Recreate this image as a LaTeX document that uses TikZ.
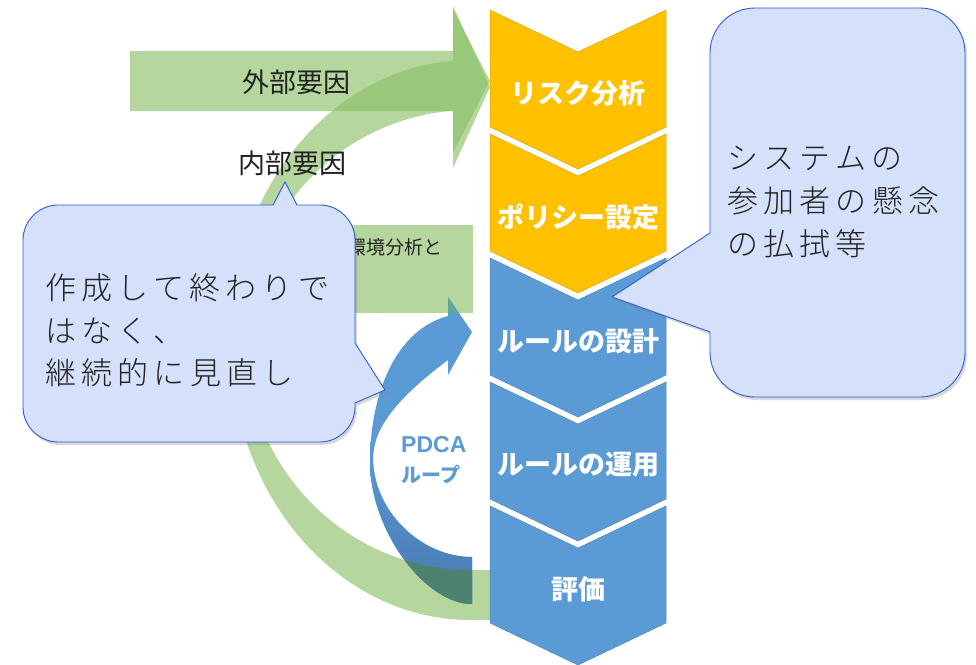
\documentclass[tikz,border=0pt]{standalone}
\usepackage{fontspec}
\usetikzlibrary{shadows}
\newfontfamily\jp{Noto Sans CJK JP}
\newfontfamily\jpls{Noto Sans CJK JP Light}[LetterSpace=17]
\newfontfamily\nsans{Liberation Sans}
\definecolor{grn}{HTML}{88C064}
\definecolor{orng}{HTML}{FFC000}
\definecolor{bluL}{HTML}{5B9BD5}
\definecolor{bluD}{HTML}{4777B0}
\definecolor{tealD}{HTML}{4E8270}
\definecolor{tealL}{HTML}{62A69A}
\definecolor{cofill}{HTML}{D5E0FB}
\definecolor{coline}{HTML}{2F5BD3}
\definecolor{txt}{HTML}{222222}
\tikzset{
  greenshape/.style={fill=grn, fill opacity=0.62},
  chevtext/.style={text=white, font=\jp\bfseries\fontsize{27}{30}\selectfont, inner sep=0pt},
  labtext/.style={text=txt, font=\jp\fontsize{27}{30}\selectfont, inner sep=0pt},
  cotext/.style={text=txt, font=\jpls\fontsize{31}{36}\selectfont, inner sep=0pt, anchor=base west},
  callout/.style={fill=cofill, draw=coline, line width=0.9pt,
    drop shadow={shadow xshift=2pt, shadow yshift=-3pt, opacity=0.3}},
}
\def\greenarc{(490,620) -- plot[domain=90:266,samples=60] ({470+240*cos(\x)},{340+280*sin(\x)}) -- (453,6) -- (490,87) -- (453,168) -- plot[domain=265.7:90,samples=60] ({470+225*cos(\x)},{340+230*sin(\x)}) -- (490,570) -- cycle}
\def\bluepath{(448,316) -- (448,297) -- (472,332) -- (448,375) -- (448,360) .. controls (415,385) and (373,420) .. (373,458) .. controls (373,510) and (420,557) .. (472,557) -- (472,604) .. controls (425,604) and (370,530) .. (370,462) .. controls (370,395) and (395,330) .. (448,316) -- cycle}
\begin{document}
\begin{tikzpicture}[x=1pt,y=-1pt]
\useasboundingbox (0,0) rectangle (976,664);
\fill[white] (0,0) rectangle (976,664);
% green straight arrow
\fill[greenshape] (130,51) -- (453,51) -- (453,9) -- (490,81) -- (453,153) -- (453,111) -- (130,111) -- cycle;
% green curved arrow
\fill[greenshape] \greenarc;
% green rectangle
\fill[greenshape] (130,225) rectangle (473,313);
% labels
\node[labtext] (gaibu) at (296,82) {外部要因};
\node[labtext] (naibu) at (292,163) {内部要因};
\node[text=txt, font=\jp\fontsize{19}{22}\selectfont, inner sep=0pt, anchor=west] (kankyo) at (347,247) {環境分析と};
% blue PDCA arrow
\begin{scope}
  \clip \bluepath;
  \fill[bluL] (350,280) rectangle (490,620);
  \shade[top color=bluL, bottom color=bluD] (350,440) rectangle (490,612);
  \begin{scope}
    \clip \greenarc;
    \fill[tealD] (350,280) rectangle (490,620);
  \end{scope}
  \fill[tealL] (130,225) rectangle (473,313);
\end{scope}
\node[text=bluL, font=\nsans\bfseries\fontsize{23}{26}\selectfont, inner sep=0pt, anchor=west] (pdca) at (401,445) {PDCA};
\node[text=bluL, font=\jp\bfseries\fontsize{20}{24}\selectfont, inner sep=0pt, anchor=west] (loop) at (401,475) {ループ};
% chevrons
\foreach \yt/\col/\lab/\nm in {10/orng/リスク分析/c1, 134/orng/ポリシー設定/c2, 258/bluL/ルールの設計/c3, 382/bluL/ルールの運用/c4, 506/bluL/評価/c5} {
  \filldraw[fill=\col, draw=\col!88!black, line width=0.5pt] (490,\yt) -- (578,\yt+42) -- (666,\yt) -- (666,\yt+117) -- (578,\yt+159) -- (490,\yt+117) -- cycle;
  \node[chevtext] (\nm) at (578,\yt+83) {\lab};
}
% left callout
\path[callout] (58,205) -- (273,205) -- (285,182) -- (297,205) -- (320,205) .. controls (339,205) and (355,221) .. (355,240) -- (355,343) -- (385,390) -- (355,403) -- (355,407) .. controls (355,426) and (339,442) .. (320,442) -- (58,442) .. controls (39,442) and (23,426) .. (23,407) -- (23,240) .. controls (23,221) and (39,205) .. (58,205) -- cycle;
\node[cotext] (l1) at (45,299) {作成して終わりで};
\node[cotext] (l2) at (45,342) {はなく、};
\node[cotext] (l3) at (45,384) {継続的に見直し};
% right callout
\path[callout] (755,8) -- (920,8) .. controls (945,8) and (965,28) .. (965,53) -- (965,352) .. controls (965,377) and (945,397) .. (920,397) -- (755,397) .. controls (730,397) and (710,377) .. (710,352) -- (710,332) -- (612,297) -- (710,233) -- (710,53) .. controls (710,28) and (730,8) .. (755,8) -- cycle;
\node[cotext] (r1) at (727,169) {システムの};
\node[cotext] (r2) at (727,212) {参加者の懸念};
\node[cotext] (r3) at (727,255) {の払拭等};
\end{tikzpicture}
\end{document}
